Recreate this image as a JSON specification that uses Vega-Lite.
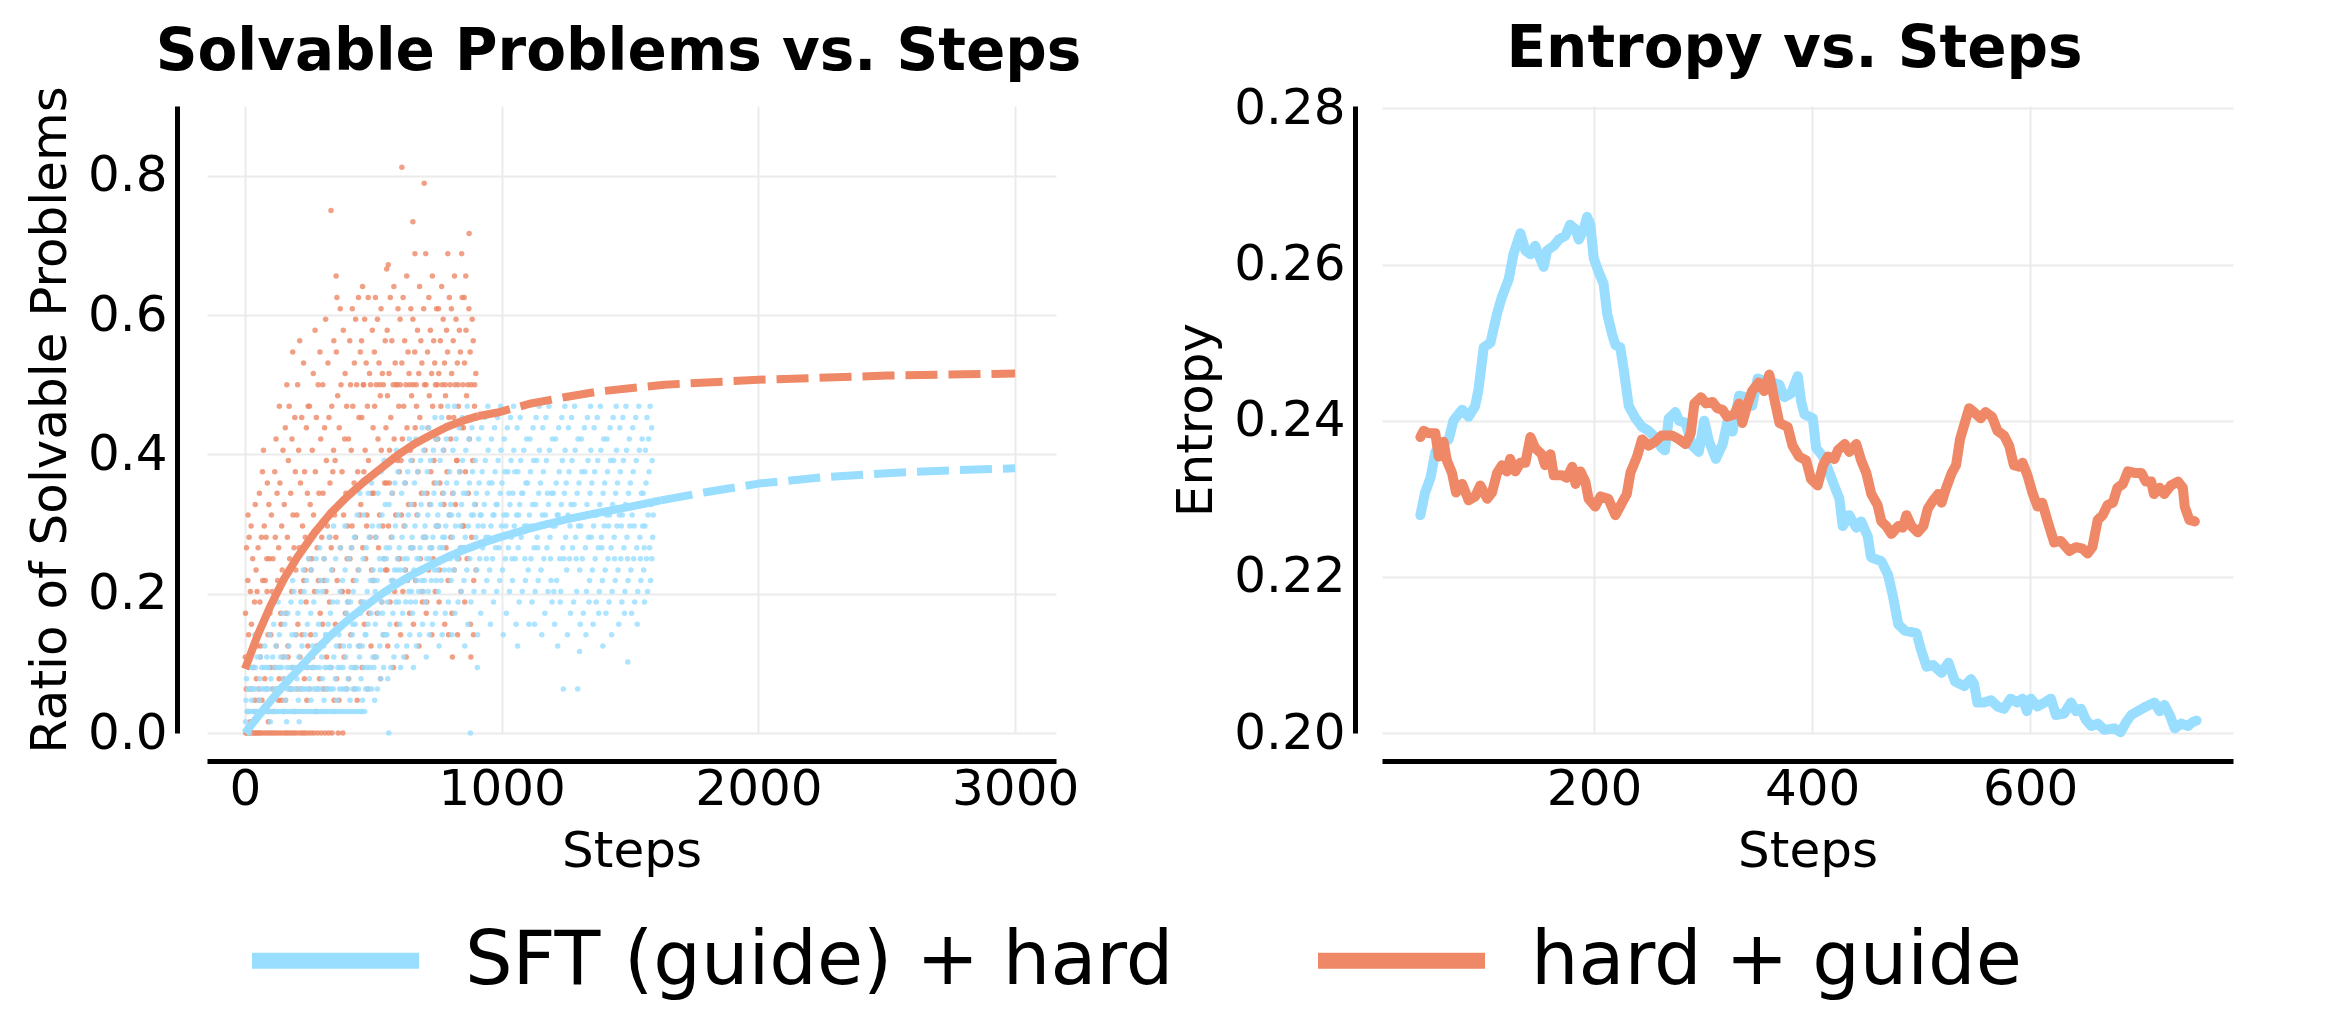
{
"$schema":"https://vega.github.io/schema/vega-lite/v6.json",
"background":"white",
"padding":{"left":25,"top":21,"right":5,"bottom":5},
"config":{
"font":"DejaVu Sans",
"view":{"stroke":null},
"axis":{"domainColor":"#000000","domainWidth":5,"ticks":false,"tickSize":0,"labelFontSize":50,"labelColor":"#000000","titleFontSize":50,"titleFontWeight":"normal","titleColor":"#000000","gridColor":"#ebebeb","gridWidth":2,"labelFlush":false,"labelOverlap":false,"labelFont":"DejaVu Sans","titleFont":"DejaVu Sans"},
"title":{"fontSize":58,"fontWeight":"bold","color":"#000000","offset":0,"font":"DejaVu Sans"},
"legend":{"labelFont":"DejaVu Sans","orient":"none","legendX":37,"legendY":763,"direction":"horizontal","symbolType":"stroke","symbolSize":27889,"symbolStrokeWidth":16,"labelFontSize":75,"labelColor":"#000000","labelOffset":38,"columnPadding":112,"labelLimit":2000,"symbolOpacity":1}
},
"datasets":{
"ptsO":[
{"s":3,"v":0},{"s":41,"v":0},{"s":17,"v":0},{"s":29,"v":0},{"s":9,"v":0},{"s":46,"v":0},{"s":23,"v":0},{"s":35,"v":0},{"s":12,"v":0.031},{"s":38,"v":0.047},{"s":5,"v":0.063},{"s":27,"v":0.063},{"s":44,"v":0.078},{"s":19,"v":0.063},{"s":33,"v":0.094},{"s":8,"v":0.109},{"s":48,"v":0.125},{"s":14,"v":0.141},{"s":25,"v":0.156},{"s":2,"v":0.172},{"s":37,"v":0.188},{"s":21,"v":0.203},{"s":11,"v":0.219},{"s":43,"v":0.234},{"s":30,"v":0.25},{"s":6,"v":0.266},{"s":16,"v":0.281},{"s":12,"v":0.313},{"s":40,"v":0.328},{"s":24,"v":0.297},{"s":47,"v":0.203},{"s":1,"v":0.109},{"s":32,"v":0.094},{"s":20,"v":0.016},{"s":36,"v":0.031},
{"s":57,"v":0},{"s":88,"v":0},{"s":71,"v":0},{"s":96,"v":0},{"s":63,"v":0},{"s":80,"v":0},{"s":52,"v":0},{"s":92,"v":0.031},{"s":66,"v":0.047},{"s":84,"v":0.063},{"s":54,"v":0.063},{"s":77,"v":0.078},{"s":99,"v":0.094},{"s":61,"v":0.125},{"s":90,"v":0.141},{"s":73,"v":0.156},{"s":58,"v":0.188},{"s":86,"v":0.203},{"s":69,"v":0.219},{"s":95,"v":0.25},{"s":51,"v":0.266},{"s":82,"v":0.281},{"s":64,"v":0.281},{"s":75,"v":0.297},{"s":93,"v":0.328},{"s":56,"v":0.344},{"s":87,"v":0.359},{"s":68,"v":0.375},{"s":79,"v":0.219},{"s":60,"v":0.109},{"s":97,"v":0.172},{"s":72,"v":0.406},{"s":85,"v":0.25},{"s":53,"v":0.047},{"s":91,"v":0.016},
{"s":104,"v":0},{"s":137,"v":0},{"s":119,"v":0},{"s":146,"v":0},{"s":111,"v":0},{"s":128,"v":0},{"s":142,"v":0.047},{"s":107,"v":0.063},{"s":133,"v":0.078},{"s":115,"v":0.094},{"s":149,"v":0.109},{"s":122,"v":0.125},{"s":101,"v":0.141},{"s":139,"v":0.172},{"s":113,"v":0.188},{"s":127,"v":0.219},{"s":145,"v":0.234},{"s":109,"v":0.25},{"s":131,"v":0.266},{"s":118,"v":0.281},{"s":143,"v":0.297},{"s":103,"v":0.313},{"s":125,"v":0.344},{"s":136,"v":0.359},{"s":116,"v":0.375},{"s":148,"v":0.406},{"s":121,"v":0.422},{"s":134,"v":0.469},{"s":106,"v":0.203},{"s":140,"v":0.156},{"s":124,"v":0.063},{"s":112,"v":0.031},{"s":130,"v":0.047},
{"s":156,"v":0},{"s":189,"v":0},{"s":171,"v":0},{"s":197,"v":0},{"s":162,"v":0},{"s":180,"v":0},{"s":193,"v":0.031},{"s":158,"v":0.047},{"s":176,"v":0.063},{"s":151,"v":0.078},{"s":185,"v":0.094},{"s":167,"v":0.125},{"s":199,"v":0.141},{"s":160,"v":0.172},{"s":182,"v":0.203},{"s":154,"v":0.219},{"s":174,"v":0.25},{"s":191,"v":0.266},{"s":165,"v":0.281},{"s":187,"v":0.313},{"s":153,"v":0.328},{"s":178,"v":0.344},{"s":196,"v":0.375},{"s":169,"v":0.391},{"s":183,"v":0.422},{"s":157,"v":0.438},{"s":194,"v":0.453},{"s":172,"v":0.469},{"s":163,"v":0.5},{"s":186,"v":0.547},{"s":198,"v":0.234},{"s":168,"v":0.109},{"s":179,"v":0.063},{"s":152,"v":0.031},
{"s":208,"v":0},{"s":236,"v":0},{"s":219,"v":0},{"s":247,"v":0},{"s":227,"v":0},{"s":241,"v":0.047},{"s":203,"v":0.063},{"s":231,"v":0.078},{"s":214,"v":0.109},{"s":245,"v":0.125},{"s":222,"v":0.141},{"s":206,"v":0.156},{"s":238,"v":0.188},{"s":217,"v":0.203},{"s":229,"v":0.219},{"s":249,"v":0.25},{"s":211,"v":0.266},{"s":235,"v":0.281},{"s":224,"v":0.297},{"s":202,"v":0.313},{"s":243,"v":0.344},{"s":216,"v":0.359},{"s":232,"v":0.375},{"s":209,"v":0.406},{"s":239,"v":0.438},{"s":221,"v":0.453},{"s":246,"v":0.469},{"s":205,"v":0.5},{"s":228,"v":0.531},{"s":213,"v":0.563},{"s":234,"v":0.234},{"s":242,"v":0.094},{"s":218,"v":0.063},
{"s":258,"v":0},{"s":283,"v":0},{"s":269,"v":0},{"s":297,"v":0},{"s":276,"v":0.031},{"s":252,"v":0.063},{"s":290,"v":0.078},{"s":264,"v":0.094},{"s":279,"v":0.125},{"s":256,"v":0.141},{"s":293,"v":0.172},{"s":271,"v":0.203},{"s":286,"v":0.219},{"s":260,"v":0.25},{"s":281,"v":0.266},{"s":298,"v":0.297},{"s":267,"v":0.313},{"s":254,"v":0.328},{"s":288,"v":0.344},{"s":274,"v":0.375},{"s":262,"v":0.406},{"s":295,"v":0.422},{"s":278,"v":0.453},{"s":251,"v":0.469},{"s":285,"v":0.5},{"s":266,"v":0.516},{"s":292,"v":0.547},{"s":273,"v":0.578},{"s":257,"v":0.234},{"s":299,"v":0.281},{"s":263,"v":0.109},{"s":282,"v":0.063},
{"s":312,"v":0},{"s":339,"v":0},{"s":326,"v":0},{"s":347,"v":0.047},{"s":305,"v":0.063},{"s":333,"v":0.094},{"s":318,"v":0.109},{"s":344,"v":0.141},{"s":302,"v":0.156},{"s":329,"v":0.188},{"s":315,"v":0.203},{"s":341,"v":0.234},{"s":308,"v":0.25},{"s":336,"v":0.266},{"s":321,"v":0.297},{"s":349,"v":0.313},{"s":304,"v":0.344},{"s":331,"v":0.359},{"s":317,"v":0.391},{"s":345,"v":0.406},{"s":310,"v":0.438},{"s":327,"v":0.453},{"s":338,"v":0.469},{"s":303,"v":0.5},{"s":323,"v":0.531},{"s":346,"v":0.563},{"s":314,"v":0.594},{"s":335,"v":0.75},{"s":330,"v":0.281},{"s":307,"v":0.219},{"s":342,"v":0.375},{"s":319,"v":0.063},
{"s":363,"v":0},{"s":381,"v":0},{"s":395,"v":0.063},{"s":357,"v":0.078},{"s":386,"v":0.109},{"s":369,"v":0.125},{"s":352,"v":0.156},{"s":391,"v":0.172},{"s":376,"v":0.203},{"s":359,"v":0.219},{"s":398,"v":0.25},{"s":372,"v":0.266},{"s":354,"v":0.281},{"s":384,"v":0.313},{"s":365,"v":0.328},{"s":393,"v":0.344},{"s":378,"v":0.375},{"s":351,"v":0.391},{"s":388,"v":0.422},{"s":367,"v":0.438},{"s":396,"v":0.469},{"s":361,"v":0.484},{"s":374,"v":0.5},{"s":390,"v":0.516},{"s":356,"v":0.547},{"s":383,"v":0.578},{"s":371,"v":0.609},{"s":358,"v":0.625},{"s":355,"v":0.656},{"s":399,"v":0.297},{"s":379,"v":0.203},{"s":366,"v":0.047},
{"s":437,"v":0.047},{"s":404,"v":0.078},{"s":428,"v":0.094},{"s":446,"v":0.125},{"s":412,"v":0.141},{"s":433,"v":0.172},{"s":401,"v":0.188},{"s":422,"v":0.219},{"s":441,"v":0.234},{"s":409,"v":0.25},{"s":430,"v":0.281},{"s":417,"v":0.297},{"s":448,"v":0.313},{"s":406,"v":0.344},{"s":425,"v":0.359},{"s":439,"v":0.375},{"s":414,"v":0.406},{"s":403,"v":0.422},{"s":444,"v":0.453},{"s":420,"v":0.469},{"s":411,"v":0.5},{"s":435,"v":0.5},{"s":426,"v":0.531},{"s":449,"v":0.547},{"s":408,"v":0.563},{"s":431,"v":0.594},{"s":418,"v":0.609},{"s":442,"v":0.625},{"s":415,"v":0.266},{"s":402,"v":0.203},{"s":427,"v":0.063},
{"s":478,"v":0.063},{"s":456,"v":0.094},{"s":491,"v":0.125},{"s":465,"v":0.156},{"s":483,"v":0.172},{"s":452,"v":0.188},{"s":497,"v":0.219},{"s":470,"v":0.25},{"s":459,"v":0.266},{"s":487,"v":0.281},{"s":474,"v":0.297},{"s":451,"v":0.328},{"s":494,"v":0.344},{"s":463,"v":0.375},{"s":481,"v":0.391},{"s":468,"v":0.406},{"s":499,"v":0.438},{"s":455,"v":0.453},{"s":477,"v":0.469},{"s":489,"v":0.5},{"s":461,"v":0.5},{"s":485,"v":0.516},{"s":472,"v":0.531},{"s":454,"v":0.563},{"s":496,"v":0.578},{"s":466,"v":0.594},{"s":480,"v":0.625},{"s":458,"v":0.641},{"s":493,"v":0.234},{"s":475,"v":0.313},{"s":462,"v":0.5},
{"s":528,"v":0.078},{"s":506,"v":0.109},{"s":541,"v":0.141},{"s":515,"v":0.172},{"s":533,"v":0.188},{"s":502,"v":0.219},{"s":547,"v":0.234},{"s":520,"v":0.266},{"s":509,"v":0.281},{"s":537,"v":0.297},{"s":524,"v":0.313},{"s":501,"v":0.344},{"s":544,"v":0.359},{"s":513,"v":0.375},{"s":531,"v":0.406},{"s":518,"v":0.422},{"s":549,"v":0.438},{"s":505,"v":0.469},{"s":527,"v":0.484},{"s":539,"v":0.5},{"s":511,"v":0.5},{"s":535,"v":0.516},{"s":522,"v":0.531},{"s":504,"v":0.547},{"s":546,"v":0.563},{"s":516,"v":0.594},{"s":530,"v":0.609},{"s":508,"v":0.625},{"s":552,"v":0.666},{"s":543,"v":0.25},{"s":525,"v":0.5},
{"s":578,"v":0.094},{"s":556,"v":0.125},{"s":591,"v":0.156},{"s":565,"v":0.188},{"s":583,"v":0.203},{"s":553,"v":0.234},{"s":597,"v":0.25},{"s":570,"v":0.281},{"s":559,"v":0.297},{"s":587,"v":0.313},{"s":574,"v":0.344},{"s":551,"v":0.359},{"s":594,"v":0.391},{"s":563,"v":0.406},{"s":581,"v":0.422},{"s":568,"v":0.453},{"s":599,"v":0.469},{"s":555,"v":0.484},{"s":577,"v":0.5},{"s":589,"v":0.5},{"s":561,"v":0.516},{"s":585,"v":0.531},{"s":572,"v":0.563},{"s":554,"v":0.578},{"s":596,"v":0.609},{"s":566,"v":0.625},{"s":580,"v":0.641},{"s":558,"v":0.672},{"s":593,"v":0.5},{"s":575,"v":0.219},{"s":562,"v":0.359},
{"s":628,"v":0.109},{"s":606,"v":0.141},{"s":641,"v":0.172},{"s":615,"v":0.203},{"s":633,"v":0.219},{"s":602,"v":0.25},{"s":647,"v":0.266},{"s":620,"v":0.297},{"s":609,"v":0.313},{"s":637,"v":0.328},{"s":624,"v":0.359},{"s":601,"v":0.375},{"s":644,"v":0.406},{"s":613,"v":0.422},{"s":631,"v":0.438},{"s":618,"v":0.469},{"s":649,"v":0.484},{"s":605,"v":0.5},{"s":627,"v":0.5},{"s":639,"v":0.516},{"s":611,"v":0.531},{"s":635,"v":0.547},{"s":622,"v":0.563},{"s":604,"v":0.594},{"s":646,"v":0.609},{"s":611,"v":0.812},{"s":616,"v":0.625},{"s":630,"v":0.656},{"s":642,"v":0.5},{"s":625,"v":0.234},{"s":608,"v":0.391},
{"s":678,"v":0.125},{"s":656,"v":0.156},{"s":691,"v":0.188},{"s":665,"v":0.219},{"s":683,"v":0.25},{"s":652,"v":0.266},{"s":697,"v":0.281},{"s":670,"v":0.313},{"s":659,"v":0.328},{"s":687,"v":0.344},{"s":674,"v":0.375},{"s":651,"v":0.391},{"s":694,"v":0.422},{"s":663,"v":0.438},{"s":681,"v":0.453},{"s":668,"v":0.469},{"s":699,"v":0.5},{"s":655,"v":0.5},{"s":677,"v":0.516},{"s":689,"v":0.531},{"s":661,"v":0.547},{"s":685,"v":0.563},{"s":672,"v":0.578},{"s":654,"v":0.594},{"s":696,"v":0.609},{"s":654,"v":0.734},{"s":698,"v":0.789},{"s":680,"v":0.641},{"s":667,"v":0.5},{"s":690,"v":0.203},{"s":662,"v":0.688},
{"s":728,"v":0.141},{"s":706,"v":0.172},{"s":741,"v":0.203},{"s":715,"v":0.234},{"s":733,"v":0.25},{"s":702,"v":0.281},{"s":747,"v":0.297},{"s":720,"v":0.328},{"s":709,"v":0.344},{"s":737,"v":0.359},{"s":724,"v":0.375},{"s":701,"v":0.406},{"s":744,"v":0.422},{"s":713,"v":0.438},{"s":731,"v":0.469},{"s":718,"v":0.484},{"s":749,"v":0.5},{"s":705,"v":0.5},{"s":727,"v":0.516},{"s":739,"v":0.531},{"s":711,"v":0.547},{"s":735,"v":0.563},{"s":722,"v":0.578},{"s":704,"v":0.688},{"s":746,"v":0.609},{"s":716,"v":0.625},{"s":730,"v":0.656},{"s":742,"v":0.5},{"s":725,"v":0.266},{"s":708,"v":0.188},{"s":736,"v":0.391},
{"s":778,"v":0.156},{"s":756,"v":0.188},{"s":791,"v":0.219},{"s":765,"v":0.25},{"s":783,"v":0.266},{"s":752,"v":0.297},{"s":797,"v":0.313},{"s":770,"v":0.344},{"s":759,"v":0.359},{"s":787,"v":0.375},{"s":774,"v":0.406},{"s":751,"v":0.422},{"s":794,"v":0.453},{"s":763,"v":0.469},{"s":781,"v":0.484},{"s":768,"v":0.5},{"s":799,"v":0.5},{"s":755,"v":0.516},{"s":777,"v":0.531},{"s":789,"v":0.547},{"s":761,"v":0.563},{"s":785,"v":0.578},{"s":772,"v":0.594},{"s":754,"v":0.609},{"s":796,"v":0.625},{"s":790,"v":0.688},{"s":766,"v":0.641},{"s":780,"v":0.5},{"s":758,"v":0.234},{"s":793,"v":0.141},{"s":775,"v":0.328},
{"s":828,"v":0.141},{"s":806,"v":0.172},{"s":841,"v":0.203},{"s":815,"v":0.234},{"s":833,"v":0.25},{"s":802,"v":0.281},{"s":847,"v":0.297},{"s":820,"v":0.328},{"s":809,"v":0.344},{"s":837,"v":0.375},{"s":824,"v":0.391},{"s":801,"v":0.422},{"s":844,"v":0.438},{"s":813,"v":0.453},{"s":831,"v":0.469},{"s":818,"v":0.5},{"s":849,"v":0.5},{"s":805,"v":0.516},{"s":827,"v":0.531},{"s":839,"v":0.547},{"s":811,"v":0.563},{"s":835,"v":0.578},{"s":822,"v":0.594},{"s":804,"v":0.609},{"s":846,"v":0.625},{"s":816,"v":0.656},{"s":830,"v":0.5},{"s":842,"v":0.266},{"s":808,"v":0.109},{"s":844,"v":0.688},{"s":826,"v":0.391},
{"s":878,"v":0.156},{"s":856,"v":0.188},{"s":891,"v":0.219},{"s":865,"v":0.25},{"s":883,"v":0.281},{"s":852,"v":0.297},{"s":897,"v":0.328},{"s":870,"v":0.344},{"s":859,"v":0.375},{"s":887,"v":0.391},{"s":874,"v":0.422},{"s":851,"v":0.438},{"s":894,"v":0.469},{"s":863,"v":0.484},{"s":881,"v":0.5},{"s":868,"v":0.5},{"s":899,"v":0.516},{"s":855,"v":0.531},{"s":877,"v":0.547},{"s":889,"v":0.563},{"s":861,"v":0.578},{"s":885,"v":0.594},{"s":872,"v":0.609},{"s":854,"v":0.625},{"s":873,"v":0.717},{"s":895,"v":0.5},{"s":880,"v":0.109},{"s":890,"v":0.141},{"s":860,"v":0.656},{"s":905,"v":0.453},{"s":900,"v":0.234}
],
"ptsB":[
{"s":2,"v":0.016},{"s":8,"v":0.031},{"s":15,"v":0.031},{"s":22,"v":0.031},{"s":30,"v":0.031},{"s":37,"v":0.031},{"s":45,"v":0.031},{"s":4,"v":0.047},{"s":12,"v":0.063},{"s":19,"v":0.063},{"s":27,"v":0.063},{"s":35,"v":0.063},{"s":43,"v":0.063},{"s":6,"v":0.078},{"s":14,"v":0.094},{"s":24,"v":0.094},{"s":33,"v":0.094},{"s":41,"v":0.094},{"s":10,"v":0.109},{"s":29,"v":0.125},{"s":47,"v":0.109},{"s":18,"v":0},{"s":39,"v":0.141},{"s":26,"v":0.047},
{"s":52,"v":0.031},{"s":59,"v":0.031},{"s":66,"v":0.031},{"s":73,"v":0.031},{"s":80,"v":0.031},{"s":88,"v":0.031},{"s":95,"v":0.031},{"s":55,"v":0.047},{"s":62,"v":0.063},{"s":70,"v":0.063},{"s":78,"v":0.063},{"s":86,"v":0.063},{"s":93,"v":0.063},{"s":57,"v":0.078},{"s":65,"v":0.094},{"s":74,"v":0.094},{"s":83,"v":0.094},{"s":91,"v":0.094},{"s":60,"v":0.109},{"s":77,"v":0.125},{"s":97,"v":0.141},{"s":68,"v":0.156},{"s":85,"v":0.109},{"s":99,"v":0.016},{"s":90,"v":0.172},
{"s":103,"v":0.031},{"s":110,"v":0.031},{"s":118,"v":0.031},{"s":125,"v":0.031},{"s":133,"v":0.031},{"s":141,"v":0.031},{"s":148,"v":0.031},{"s":106,"v":0.047},{"s":114,"v":0.063},{"s":122,"v":0.063},{"s":130,"v":0.063},{"s":138,"v":0.063},{"s":145,"v":0.063},{"s":101,"v":0.078},{"s":116,"v":0.094},{"s":127,"v":0.094},{"s":136,"v":0.094},{"s":143,"v":0.094},{"s":108,"v":0.109},{"s":121,"v":0.125},{"s":134,"v":0.141},{"s":112,"v":0.156},{"s":147,"v":0.172},{"s":129,"v":0.188},{"s":139,"v":0.109},{"s":119,"v":0.203},
{"s":153,"v":0.031},{"s":161,"v":0.031},{"s":169,"v":0.031},{"s":177,"v":0.031},{"s":185,"v":0.031},{"s":193,"v":0.031},{"s":157,"v":0.047},{"s":165,"v":0.063},{"s":173,"v":0.063},{"s":181,"v":0.063},{"s":189,"v":0.063},{"s":197,"v":0.063},{"s":151,"v":0.078},{"s":163,"v":0.094},{"s":175,"v":0.094},{"s":187,"v":0.094},{"s":198,"v":0.094},{"s":159,"v":0.109},{"s":171,"v":0.125},{"s":183,"v":0.141},{"s":195,"v":0.141},{"s":155,"v":0.156},{"s":167,"v":0.172},{"s":179,"v":0.188},{"s":191,"v":0.203},{"s":186,"v":0.219},{"s":162,"v":0.016},
{"s":204,"v":0.031},{"s":212,"v":0.031},{"s":220,"v":0.031},{"s":228,"v":0.031},{"s":237,"v":0.031},{"s":245,"v":0.031},{"s":208,"v":0.047},{"s":216,"v":0.063},{"s":224,"v":0.063},{"s":233,"v":0.063},{"s":241,"v":0.063},{"s":249,"v":0.063},{"s":202,"v":0.078},{"s":214,"v":0.094},{"s":226,"v":0.094},{"s":238,"v":0.094},{"s":247,"v":0.094},{"s":210,"v":0.109},{"s":222,"v":0.125},{"s":234,"v":0.141},{"s":243,"v":0.156},{"s":206,"v":0.172},{"s":218,"v":0.188},{"s":230,"v":0.203},{"s":240,"v":0.219},{"s":227,"v":0.234},{"s":248,"v":0.25},{"s":211,"v":0.016},
{"s":253,"v":0.031},{"s":262,"v":0.031},{"s":271,"v":0.031},{"s":280,"v":0.031},{"s":289,"v":0.031},{"s":297,"v":0.031},{"s":257,"v":0.047},{"s":266,"v":0.063},{"s":275,"v":0.063},{"s":284,"v":0.063},{"s":293,"v":0.063},{"s":251,"v":0.078},{"s":260,"v":0.094},{"s":270,"v":0.094},{"s":279,"v":0.094},{"s":290,"v":0.094},{"s":299,"v":0.109},{"s":264,"v":0.125},{"s":274,"v":0.141},{"s":286,"v":0.156},{"s":256,"v":0.172},{"s":268,"v":0.188},{"s":282,"v":0.203},{"s":295,"v":0.219},{"s":259,"v":0.234},{"s":277,"v":0.25},{"s":291,"v":0.266},{"s":287,"v":0.125},
{"s":304,"v":0.031},{"s":313,"v":0.031},{"s":322,"v":0.031},{"s":331,"v":0.031},{"s":340,"v":0.031},{"s":348,"v":0.031},{"s":308,"v":0.047},{"s":317,"v":0.063},{"s":326,"v":0.063},{"s":335,"v":0.063},{"s":344,"v":0.063},{"s":302,"v":0.078},{"s":311,"v":0.094},{"s":320,"v":0.094},{"s":329,"v":0.094},{"s":338,"v":0.094},{"s":346,"v":0.109},{"s":306,"v":0.125},{"s":315,"v":0.141},{"s":324,"v":0.156},{"s":333,"v":0.172},{"s":342,"v":0.188},{"s":301,"v":0.203},{"s":319,"v":0.219},{"s":337,"v":0.234},{"s":309,"v":0.25},{"s":327,"v":0.281},{"s":345,"v":0.297},{"s":314,"v":0.141},
{"s":354,"v":0.031},{"s":364,"v":0.031},{"s":374,"v":0.031},{"s":384,"v":0.031},{"s":394,"v":0.031},{"s":358,"v":0.047},{"s":368,"v":0.063},{"s":378,"v":0.063},{"s":388,"v":0.063},{"s":398,"v":0.063},{"s":352,"v":0.078},{"s":362,"v":0.094},{"s":372,"v":0.094},{"s":382,"v":0.094},{"s":392,"v":0.109},{"s":356,"v":0.125},{"s":366,"v":0.141},{"s":376,"v":0.156},{"s":386,"v":0.156},{"s":396,"v":0.172},{"s":360,"v":0.188},{"s":370,"v":0.203},{"s":380,"v":0.219},{"s":390,"v":0.234},{"s":353,"v":0.25},{"s":371,"v":0.266},{"s":389,"v":0.297},{"s":365,"v":0.328},{"s":383,"v":0.125},{"s":399,"v":0.188},
{"s":405,"v":0.031},{"s":416,"v":0.031},{"s":427,"v":0.031},{"s":438,"v":0.031},{"s":448,"v":0.031},{"s":409,"v":0.047},{"s":420,"v":0.063},{"s":431,"v":0.063},{"s":442,"v":0.063},{"s":402,"v":0.078},{"s":413,"v":0.094},{"s":424,"v":0.094},{"s":435,"v":0.094},{"s":446,"v":0.109},{"s":407,"v":0.125},{"s":418,"v":0.141},{"s":429,"v":0.156},{"s":440,"v":0.172},{"s":450,"v":0.172},{"s":411,"v":0.188},{"s":422,"v":0.203},{"s":433,"v":0.219},{"s":444,"v":0.234},{"s":404,"v":0.25},{"s":415,"v":0.266},{"s":426,"v":0.281},{"s":437,"v":0.313},{"s":448,"v":0.344},{"s":419,"v":0.156},{"s":441,"v":0.125},
{"s":455,"v":0.031},{"s":466,"v":0.031},{"s":458,"v":0.047},{"s":470,"v":0.063},{"s":482,"v":0.063},{"s":494,"v":0.063},{"s":452,"v":0.078},{"s":463,"v":0.094},{"s":475,"v":0.094},{"s":487,"v":0.094},{"s":498,"v":0.109},{"s":457,"v":0.125},{"s":468,"v":0.141},{"s":479,"v":0.156},{"s":491,"v":0.172},{"s":454,"v":0.188},{"s":465,"v":0.188},{"s":476,"v":0.203},{"s":488,"v":0.219},{"s":499,"v":0.234},{"s":460,"v":0.25},{"s":472,"v":0.266},{"s":484,"v":0.281},{"s":496,"v":0.297},{"s":462,"v":0.313},{"s":480,"v":0.344},{"s":493,"v":0.359},{"s":471,"v":0.141},{"s":486,"v":0.188},
{"s":505,"v":0.047},{"s":516,"v":0.063},{"s":528,"v":0.078},{"s":540,"v":0.094},{"s":502,"v":0.094},{"s":513,"v":0.109},{"s":525,"v":0.125},{"s":537,"v":0.141},{"s":548,"v":0.141},{"s":508,"v":0.156},{"s":520,"v":0.172},{"s":532,"v":0.188},{"s":544,"v":0.203},{"s":504,"v":0.219},{"s":515,"v":0.219},{"s":527,"v":0.234},{"s":539,"v":0.25},{"s":550,"v":0.266},{"s":510,"v":0.281},{"s":522,"v":0.297},{"s":534,"v":0.313},{"s":546,"v":0.328},{"s":518,"v":0.344},{"s":530,"v":0.375},{"s":542,"v":0.391},{"s":507,"v":0.203},{"s":536,"v":0.172},{"s":524,"v":0.25},
{"s":560,"v":0},{"s":556,"v":0.078},{"s":568,"v":0.094},{"s":580,"v":0.109},{"s":592,"v":0.125},{"s":553,"v":0.141},{"s":564,"v":0.156},{"s":576,"v":0.172},{"s":588,"v":0.188},{"s":599,"v":0.188},{"s":558,"v":0.203},{"s":570,"v":0.219},{"s":582,"v":0.234},{"s":594,"v":0.25},{"s":551,"v":0.25},{"s":563,"v":0.266},{"s":574,"v":0.281},{"s":586,"v":0.297},{"s":597,"v":0.313},{"s":561,"v":0.328},{"s":572,"v":0.344},{"s":584,"v":0.359},{"s":596,"v":0.375},{"s":566,"v":0.391},{"s":590,"v":0.406},{"s":578,"v":0.219},{"s":555,"v":0.188},{"s":593,"v":0.234},
{"s":606,"v":0.094},{"s":618,"v":0.109},{"s":630,"v":0.125},{"s":642,"v":0.141},{"s":603,"v":0.156},{"s":614,"v":0.172},{"s":626,"v":0.188},{"s":638,"v":0.203},{"s":649,"v":0.203},{"s":608,"v":0.219},{"s":620,"v":0.234},{"s":632,"v":0.25},{"s":644,"v":0.266},{"s":601,"v":0.266},{"s":612,"v":0.281},{"s":624,"v":0.297},{"s":636,"v":0.313},{"s":647,"v":0.328},{"s":610,"v":0.344},{"s":622,"v":0.359},{"s":634,"v":0.375},{"s":646,"v":0.391},{"s":616,"v":0.406},{"s":640,"v":0.422},{"s":628,"v":0.219},{"s":604,"v":0.234},{"s":645,"v":0.188},{"s":619,"v":0.25},
{"s":656,"v":0.094},{"s":668,"v":0.125},{"s":680,"v":0.141},{"s":692,"v":0.156},{"s":653,"v":0.172},{"s":664,"v":0.188},{"s":676,"v":0.203},{"s":688,"v":0.219},{"s":699,"v":0.219},{"s":658,"v":0.234},{"s":670,"v":0.25},{"s":682,"v":0.266},{"s":694,"v":0.281},{"s":651,"v":0.281},{"s":662,"v":0.297},{"s":674,"v":0.313},{"s":686,"v":0.328},{"s":697,"v":0.344},{"s":660,"v":0.359},{"s":672,"v":0.375},{"s":684,"v":0.391},{"s":696,"v":0.406},{"s":666,"v":0.422},{"s":690,"v":0.438},{"s":678,"v":0.25},{"s":655,"v":0.266},{"s":695,"v":0.203},{"s":669,"v":0.219},
{"s":706,"v":0.109},{"s":718,"v":0.141},{"s":730,"v":0.156},{"s":742,"v":0.172},{"s":703,"v":0.188},{"s":714,"v":0.203},{"s":726,"v":0.219},{"s":738,"v":0.234},{"s":749,"v":0.234},{"s":708,"v":0.25},{"s":720,"v":0.266},{"s":732,"v":0.281},{"s":744,"v":0.297},{"s":701,"v":0.297},{"s":712,"v":0.313},{"s":724,"v":0.328},{"s":736,"v":0.344},{"s":747,"v":0.359},{"s":710,"v":0.375},{"s":722,"v":0.391},{"s":734,"v":0.406},{"s":746,"v":0.422},{"s":716,"v":0.438},{"s":740,"v":0.453},{"s":728,"v":0.266},{"s":705,"v":0.281},{"s":745,"v":0.219},{"s":719,"v":0.25},
{"s":756,"v":0.125},{"s":768,"v":0.141},{"s":780,"v":0.172},{"s":792,"v":0.188},{"s":753,"v":0.203},{"s":764,"v":0.219},{"s":776,"v":0.234},{"s":788,"v":0.25},{"s":799,"v":0.25},{"s":758,"v":0.266},{"s":770,"v":0.281},{"s":782,"v":0.297},{"s":794,"v":0.313},{"s":751,"v":0.313},{"s":762,"v":0.328},{"s":774,"v":0.344},{"s":786,"v":0.359},{"s":797,"v":0.375},{"s":760,"v":0.391},{"s":772,"v":0.406},{"s":784,"v":0.422},{"s":796,"v":0.438},{"s":766,"v":0.453},{"s":790,"v":0.469},{"s":778,"v":0.281},{"s":755,"v":0.297},{"s":795,"v":0.234},{"s":769,"v":0.266},
{"s":806,"v":0.141},{"s":818,"v":0.172},{"s":830,"v":0.188},{"s":842,"v":0.203},{"s":803,"v":0.219},{"s":814,"v":0.234},{"s":826,"v":0.25},{"s":838,"v":0.266},{"s":849,"v":0.266},{"s":808,"v":0.281},{"s":820,"v":0.297},{"s":832,"v":0.313},{"s":844,"v":0.328},{"s":801,"v":0.328},{"s":812,"v":0.344},{"s":824,"v":0.359},{"s":836,"v":0.375},{"s":847,"v":0.391},{"s":810,"v":0.406},{"s":822,"v":0.422},{"s":834,"v":0.438},{"s":846,"v":0.453},{"s":816,"v":0.469},{"s":840,"v":0.297},{"s":828,"v":0.25},{"s":805,"v":0.313},
{"s":856,"v":0.125},{"s":868,"v":0.156},{"s":880,"v":0.188},{"s":892,"v":0.203},{"s":853,"v":0.219},{"s":864,"v":0.234},{"s":876,"v":0.25},{"s":888,"v":0.266},{"s":899,"v":0.281},{"s":858,"v":0.281},{"s":870,"v":0.297},{"s":882,"v":0.313},{"s":894,"v":0.328},{"s":851,"v":0.344},{"s":862,"v":0.344},{"s":874,"v":0.359},{"s":886,"v":0.375},{"s":897,"v":0.391},{"s":860,"v":0.406},{"s":872,"v":0.422},{"s":884,"v":0.438},{"s":896,"v":0.453},{"s":866,"v":0.469},{"s":878,"v":0},{"s":890,"v":0.313},{"s":855,"v":0.266},
{"s":906,"v":0.141},{"s":918,"v":0.172},{"s":930,"v":0.203},{"s":942,"v":0.219},{"s":903,"v":0.234},{"s":914,"v":0.25},{"s":926,"v":0.266},{"s":938,"v":0.281},{"s":949,"v":0.281},{"s":908,"v":0.297},{"s":920,"v":0.313},{"s":932,"v":0.328},{"s":944,"v":0.344},{"s":901,"v":0.344},{"s":912,"v":0.359},{"s":924,"v":0.375},{"s":936,"v":0.391},{"s":947,"v":0.406},{"s":910,"v":0.422},{"s":922,"v":0.438},{"s":934,"v":0.453},{"s":946,"v":0.469},{"s":916,"v":0.313},{"s":940,"v":0.25},{"s":928,"v":0.297},{"s":905,"v":0.094},
{"s":956,"v":0.156},{"s":968,"v":0.188},{"s":980,"v":0.203},{"s":992,"v":0.219},{"s":953,"v":0.234},{"s":964,"v":0.25},{"s":976,"v":0.266},{"s":988,"v":0.281},{"s":999,"v":0.297},{"s":958,"v":0.297},{"s":970,"v":0.313},{"s":982,"v":0.328},{"s":994,"v":0.344},{"s":951,"v":0.359},{"s":962,"v":0.359},{"s":974,"v":0.375},{"s":986,"v":0.391},{"s":997,"v":0.406},{"s":960,"v":0.422},{"s":972,"v":0.438},{"s":984,"v":0.453},{"s":996,"v":0.469},{"s":966,"v":0.313},{"s":990,"v":0.266},{"s":978,"v":0.328},
{"s":1006,"v":0.141},{"s":1018,"v":0.172},{"s":1030,"v":0.203},{"s":1042,"v":0.219},{"s":1003,"v":0.234},{"s":1014,"v":0.25},{"s":1026,"v":0.266},{"s":1038,"v":0.281},{"s":1049,"v":0.297},{"s":1008,"v":0.313},{"s":1020,"v":0.313},{"s":1032,"v":0.328},{"s":1044,"v":0.344},{"s":1001,"v":0.359},{"s":1012,"v":0.375},{"s":1024,"v":0.375},{"s":1036,"v":0.391},{"s":1047,"v":0.406},{"s":1010,"v":0.422},{"s":1022,"v":0.438},{"s":1034,"v":0.453},{"s":1046,"v":0.469},{"s":1016,"v":0.297},{"s":1040,"v":0.25},{"s":1028,"v":0.344},
{"s":1062,"v":0.125},{"s":1056,"v":0.156},{"s":1068,"v":0.188},{"s":1080,"v":0.203},{"s":1092,"v":0.219},{"s":1053,"v":0.25},{"s":1064,"v":0.266},{"s":1076,"v":0.281},{"s":1088,"v":0.297},{"s":1099,"v":0.297},{"s":1058,"v":0.313},{"s":1070,"v":0.328},{"s":1082,"v":0.344},{"s":1094,"v":0.359},{"s":1051,"v":0.375},{"s":1063,"v":0.375},{"s":1074,"v":0.391},{"s":1086,"v":0.406},{"s":1097,"v":0.422},{"s":1060,"v":0.438},{"s":1072,"v":0.453},{"s":1084,"v":0.469},{"s":1066,"v":0.313},{"s":1090,"v":0.25},{"s":1078,"v":0.344},
{"s":1106,"v":0.156},{"s":1118,"v":0.188},{"s":1130,"v":0.203},{"s":1142,"v":0.219},{"s":1103,"v":0.234},{"s":1114,"v":0.25},{"s":1126,"v":0.266},{"s":1138,"v":0.281},{"s":1149,"v":0.297},{"s":1108,"v":0.313},{"s":1120,"v":0.328},{"s":1132,"v":0.328},{"s":1144,"v":0.344},{"s":1101,"v":0.359},{"s":1112,"v":0.375},{"s":1124,"v":0.391},{"s":1136,"v":0.391},{"s":1147,"v":0.406},{"s":1110,"v":0.422},{"s":1122,"v":0.438},{"s":1134,"v":0.453},{"s":1146,"v":0.469},{"s":1116,"v":0.297},{"s":1140,"v":0.266},{"s":1128,"v":0.156},
{"s":1156,"v":0.141},{"s":1168,"v":0.172},{"s":1180,"v":0.203},{"s":1192,"v":0.219},{"s":1153,"v":0.234},{"s":1164,"v":0.25},{"s":1176,"v":0.266},{"s":1188,"v":0.281},{"s":1199,"v":0.297},{"s":1158,"v":0.313},{"s":1170,"v":0.313},{"s":1182,"v":0.328},{"s":1194,"v":0.344},{"s":1151,"v":0.359},{"s":1162,"v":0.375},{"s":1174,"v":0.391},{"s":1186,"v":0.406},{"s":1197,"v":0.422},{"s":1160,"v":0.438},{"s":1172,"v":0.453},{"s":1184,"v":0.469},{"s":1166,"v":0.297},{"s":1190,"v":0.25},{"s":1178,"v":0.344},{"s":1196,"v":0.188},
{"s":1218,"v":0.125},{"s":1240,"v":0.063},{"s":1206,"v":0.156},{"s":1228,"v":0.188},{"s":1203,"v":0.203},{"s":1214,"v":0.219},{"s":1226,"v":0.25},{"s":1238,"v":0.266},{"s":1249,"v":0.281},{"s":1208,"v":0.297},{"s":1220,"v":0.313},{"s":1232,"v":0.328},{"s":1244,"v":0.344},{"s":1201,"v":0.344},{"s":1212,"v":0.359},{"s":1224,"v":0.375},{"s":1236,"v":0.391},{"s":1247,"v":0.406},{"s":1210,"v":0.422},{"s":1222,"v":0.438},{"s":1234,"v":0.453},{"s":1246,"v":0.469},{"s":1216,"v":0.313},{"s":1242,"v":0.25},{"s":1230,"v":0.203},
{"s":1296,"v":0.063},{"s":1256,"v":0.141},{"s":1268,"v":0.172},{"s":1280,"v":0.188},{"s":1292,"v":0.203},{"s":1253,"v":0.234},{"s":1264,"v":0.25},{"s":1276,"v":0.266},{"s":1288,"v":0.281},{"s":1299,"v":0.297},{"s":1258,"v":0.313},{"s":1270,"v":0.328},{"s":1282,"v":0.328},{"s":1294,"v":0.344},{"s":1251,"v":0.359},{"s":1262,"v":0.375},{"s":1274,"v":0.391},{"s":1286,"v":0.406},{"s":1297,"v":0.422},{"s":1260,"v":0.438},{"s":1272,"v":0.453},{"s":1284,"v":0.469},{"s":1266,"v":0.297},{"s":1290,"v":0.25},{"s":1303,"v":0.117},
{"s":1306,"v":0.156},{"s":1318,"v":0.172},{"s":1330,"v":0.203},{"s":1342,"v":0.219},{"s":1304,"v":0.234},{"s":1314,"v":0.25},{"s":1326,"v":0.266},{"s":1338,"v":0.281},{"s":1349,"v":0.281},{"s":1308,"v":0.297},{"s":1320,"v":0.313},{"s":1332,"v":0.328},{"s":1344,"v":0.344},{"s":1301,"v":0.359},{"s":1312,"v":0.375},{"s":1324,"v":0.375},{"s":1336,"v":0.391},{"s":1347,"v":0.406},{"s":1310,"v":0.422},{"s":1322,"v":0.438},{"s":1334,"v":0.453},{"s":1346,"v":0.469},{"s":1316,"v":0.313},{"s":1340,"v":0.188},{"s":1328,"v":0.141},
{"s":1394,"v":0.125},{"s":1356,"v":0.156},{"s":1368,"v":0.188},{"s":1380,"v":0.203},{"s":1392,"v":0.219},{"s":1353,"v":0.234},{"s":1364,"v":0.25},{"s":1376,"v":0.266},{"s":1388,"v":0.281},{"s":1399,"v":0.297},{"s":1358,"v":0.297},{"s":1370,"v":0.313},{"s":1382,"v":0.328},{"s":1395,"v":0.344},{"s":1351,"v":0.359},{"s":1362,"v":0.375},{"s":1374,"v":0.391},{"s":1386,"v":0.406},{"s":1397,"v":0.422},{"s":1360,"v":0.438},{"s":1372,"v":0.453},{"s":1384,"v":0.469},{"s":1366,"v":0.313},{"s":1390,"v":0.266},{"s":1378,"v":0.172},
{"s":1406,"v":0.172},{"s":1418,"v":0.188},{"s":1430,"v":0.203},{"s":1442,"v":0.219},{"s":1403,"v":0.234},{"s":1414,"v":0.25},{"s":1426,"v":0.266},{"s":1438,"v":0.281},{"s":1449,"v":0.297},{"s":1408,"v":0.313},{"s":1420,"v":0.313},{"s":1432,"v":0.328},{"s":1444,"v":0.344},{"s":1401,"v":0.359},{"s":1412,"v":0.375},{"s":1424,"v":0.391},{"s":1436,"v":0.391},{"s":1447,"v":0.406},{"s":1410,"v":0.422},{"s":1422,"v":0.438},{"s":1434,"v":0.453},{"s":1446,"v":0.469},{"s":1416,"v":0.297},{"s":1440,"v":0.25},{"s":1428,"v":0.141},
{"s":1491,"v":0.102},{"s":1456,"v":0.156},{"s":1468,"v":0.188},{"s":1480,"v":0.203},{"s":1492,"v":0.219},{"s":1453,"v":0.234},{"s":1464,"v":0.25},{"s":1476,"v":0.266},{"s":1488,"v":0.281},{"s":1499,"v":0.297},{"s":1458,"v":0.313},{"s":1470,"v":0.313},{"s":1482,"v":0.328},{"s":1494,"v":0.344},{"s":1451,"v":0.359},{"s":1462,"v":0.375},{"s":1474,"v":0.391},{"s":1486,"v":0.406},{"s":1497,"v":0.422},{"s":1460,"v":0.438},{"s":1472,"v":0.453},{"s":1484,"v":0.469},{"s":1466,"v":0.297},{"s":1490,"v":0.25},{"s":1478,"v":0.172},
{"s":1506,"v":0.172},{"s":1518,"v":0.188},{"s":1530,"v":0.203},{"s":1542,"v":0.219},{"s":1503,"v":0.234},{"s":1514,"v":0.25},{"s":1526,"v":0.266},{"s":1538,"v":0.281},{"s":1549,"v":0.297},{"s":1508,"v":0.313},{"s":1520,"v":0.328},{"s":1532,"v":0.328},{"s":1544,"v":0.344},{"s":1501,"v":0.359},{"s":1512,"v":0.375},{"s":1524,"v":0.391},{"s":1536,"v":0.406},{"s":1547,"v":0.422},{"s":1510,"v":0.438},{"s":1522,"v":0.453},{"s":1534,"v":0.469},{"s":1516,"v":0.297},{"s":1540,"v":0.25},{"s":1528,"v":0.156},
{"s":1556,"v":0.188},{"s":1568,"v":0.203},{"s":1580,"v":0.219},{"s":1553,"v":0.234},{"s":1564,"v":0.25},{"s":1576,"v":0.266},{"s":1588,"v":0.281},{"s":1558,"v":0.297},{"s":1570,"v":0.313},{"s":1582,"v":0.328},{"s":1551,"v":0.344},{"s":1562,"v":0.359},{"s":1574,"v":0.375},{"s":1586,"v":0.391},{"s":1560,"v":0.406},{"s":1572,"v":0.422},{"s":1584,"v":0.438},{"s":1566,"v":0.453},{"s":1578,"v":0.469},{"s":1590,"v":0.313},{"s":1555,"v":0.266},{"s":1585,"v":0.25}
],
"fit":[
{"s":0,"v":0.0,"g":"SFT (guide) + hard","p":"solid"},{"s":75,"v":0.035,"g":"SFT (guide) + hard","p":"solid"},{"s":140,"v":0.064,"g":"SFT (guide) + hard","p":"solid"},{"s":205,"v":0.09,"g":"SFT (guide) + hard","p":"solid"},{"s":270,"v":0.1165,"g":"SFT (guide) + hard","p":"solid"},{"s":335,"v":0.1405,"g":"SFT (guide) + hard","p":"solid"},{"s":400,"v":0.162,"g":"SFT (guide) + hard","p":"solid"},{"s":465,"v":0.181,"g":"SFT (guide) + hard","p":"solid"},{"s":530,"v":0.199,"g":"SFT (guide) + hard","p":"solid"},{"s":595,"v":0.215,"g":"SFT (guide) + hard","p":"solid"},{"s":660,"v":0.229,"g":"SFT (guide) + hard","p":"solid"},{"s":725,"v":0.241,"g":"SFT (guide) + hard","p":"solid"},{"s":790,"v":0.253,"g":"SFT (guide) + hard","p":"solid"},{"s":855,"v":0.263,"g":"SFT (guide) + hard","p":"solid"},{"s":920,"v":0.272,"g":"SFT (guide) + hard","p":"solid"},{"s":984,"v":0.28,"g":"SFT (guide) + hard","p":"solid"},{"s":1114,"v":0.294,"g":"SFT (guide) + hard","p":"solid"},{"s":1244,"v":0.306,"g":"SFT (guide) + hard","p":"solid"},{"s":1374,"v":0.316,"g":"SFT (guide) + hard","p":"solid"},{"s":1504,"v":0.325,"g":"SFT (guide) + hard","p":"solid"},{"s":1620,"v":0.334,"g":"SFT (guide) + hard","p":"solid"},
{"s":1620,"v":0.334,"g":"SFT (guide) + hard","p":"dashed"},{"s":1800,"v":0.346,"g":"SFT (guide) + hard","p":"dashed"},{"s":2000,"v":0.358,"g":"SFT (guide) + hard","p":"dashed"},{"s":2250,"v":0.367,"g":"SFT (guide) + hard","p":"dashed"},{"s":2500,"v":0.373,"g":"SFT (guide) + hard","p":"dashed"},{"s":2750,"v":0.377,"g":"SFT (guide) + hard","p":"dashed"},{"s":3000,"v":0.38,"g":"SFT (guide) + hard","p":"dashed"},
{"s":0,"v":0.092,"g":"hard + guide","p":"solid"},{"s":50,"v":0.141,"g":"hard + guide","p":"solid"},{"s":100,"v":0.183,"g":"hard + guide","p":"solid"},{"s":150,"v":0.22,"g":"hard + guide","p":"solid"},{"s":205,"v":0.253,"g":"hard + guide","p":"solid"},{"s":270,"v":0.287,"g":"hard + guide","p":"solid"},{"s":335,"v":0.316,"g":"hard + guide","p":"solid"},{"s":400,"v":0.34,"g":"hard + guide","p":"solid"},{"s":465,"v":0.361,"g":"hard + guide","p":"solid"},{"s":530,"v":0.38,"g":"hard + guide","p":"solid"},{"s":595,"v":0.399,"g":"hard + guide","p":"solid"},{"s":660,"v":0.415,"g":"hard + guide","p":"solid"},{"s":725,"v":0.428,"g":"hard + guide","p":"solid"},{"s":790,"v":0.44,"g":"hard + guide","p":"solid"},{"s":855,"v":0.449,"g":"hard + guide","p":"solid"},{"s":910,"v":0.455,"g":"hard + guide","p":"solid"},
{"s":910,"v":0.455,"g":"hard + guide","p":"dashed"},{"s":984,"v":0.46,"g":"hard + guide","p":"dashed"},{"s":1114,"v":0.473,"g":"hard + guide","p":"dashed"},{"s":1244,"v":0.482,"g":"hard + guide","p":"dashed"},{"s":1374,"v":0.49,"g":"hard + guide","p":"dashed"},{"s":1634,"v":0.5,"g":"hard + guide","p":"dashed"},{"s":2000,"v":0.507,"g":"hard + guide","p":"dashed"},{"s":2500,"v":0.513,"g":"hard + guide","p":"dashed"},{"s":3000,"v":0.516,"g":"hard + guide","p":"dashed"}
],
"ent":[
{"s":40.7,"v":0.2279,"g":"SFT (guide) + hard"},{"s":45,"v":0.2308,"g":"SFT (guide) + hard"},{"s":50,"v":0.2327,"g":"SFT (guide) + hard"},{"s":54.4,"v":0.236,"g":"SFT (guide) + hard"},{"s":60.6,"v":0.237,"g":"SFT (guide) + hard"},{"s":66.7,"v":0.2376,"g":"SFT (guide) + hard"},{"s":71,"v":0.24,"g":"SFT (guide) + hard"},{"s":79,"v":0.2414,"g":"SFT (guide) + hard"},{"s":85,"v":0.2405,"g":"SFT (guide) + hard"},{"s":91,"v":0.2419,"g":"SFT (guide) + hard"},{"s":94,"v":0.244,"g":"SFT (guide) + hard"},{"s":98.8,"v":0.2494,"g":"SFT (guide) + hard"},{"s":105,"v":0.25,"g":"SFT (guide) + hard"},{"s":111,"v":0.2537,"g":"SFT (guide) + hard"},{"s":115.6,"v":0.2559,"g":"SFT (guide) + hard"},{"s":121.7,"v":0.2581,"g":"SFT (guide) + hard"},{"s":126,"v":0.2613,"g":"SFT (guide) + hard"},{"s":132.4,"v":0.264,"g":"SFT (guide) + hard"},{"s":137,"v":0.2618,"g":"SFT (guide) + hard"},{"s":141.6,"v":0.2613,"g":"SFT (guide) + hard"},{"s":146,"v":0.2624,"g":"SFT (guide) + hard"},{"s":149,"v":0.2613,"g":"SFT (guide) + hard"},{"s":153.8,"v":0.2597,"g":"SFT (guide) + hard"},{"s":157,"v":0.2618,"g":"SFT (guide) + hard"},{"s":163,"v":0.2624,"g":"SFT (guide) + hard"},{"s":167.6,"v":0.2632,"g":"SFT (guide) + hard"},{"s":173.7,"v":0.2637,"g":"SFT (guide) + hard"},{"s":178,"v":0.2651,"g":"SFT (guide) + hard"},{"s":182.9,"v":0.2645,"g":"SFT (guide) + hard"},{"s":186,"v":0.2632,"g":"SFT (guide) + hard"},{"s":190.5,"v":0.2645,"g":"SFT (guide) + hard"},{"s":193.6,"v":0.2661,"g":"SFT (guide) + hard"},{"s":196.6,"v":0.2651,"g":"SFT (guide) + hard"},{"s":199.7,"v":0.2608,"g":"SFT (guide) + hard"},{"s":204,"v":0.2591,"g":"SFT (guide) + hard"},{"s":208.8,"v":0.2575,"g":"SFT (guide) + hard"},{"s":212,"v":0.2537,"g":"SFT (guide) + hard"},{"s":216.5,"v":0.2511,"g":"SFT (guide) + hard"},{"s":219.6,"v":0.2497,"g":"SFT (guide) + hard"},{"s":224,"v":0.2494,"g":"SFT (guide) + hard"},{"s":227,"v":0.2467,"g":"SFT (guide) + hard"},{"s":231.8,"v":0.2419,"g":"SFT (guide) + hard"},{"s":238,"v":0.2403,"g":"SFT (guide) + hard"},{"s":244,"v":0.2392,"g":"SFT (guide) + hard"},{"s":250,"v":0.2387,"g":"SFT (guide) + hard"},{"s":256,"v":0.2379,"g":"SFT (guide) + hard"},{"s":262,"v":0.2365,"g":"SFT (guide) + hard"},{"s":265,"v":0.2362,"g":"SFT (guide) + hard"},{"s":268.5,"v":0.2403,"g":"SFT (guide) + hard"},{"s":274.6,"v":0.2411,"g":"SFT (guide) + hard"},{"s":278,"v":0.24,"g":"SFT (guide) + hard"},{"s":284,"v":0.2397,"g":"SFT (guide) + hard"},{"s":290,"v":0.2368,"g":"SFT (guide) + hard"},{"s":296,"v":0.236,"g":"SFT (guide) + hard"},{"s":301,"v":0.24,"g":"SFT (guide) + hard"},{"s":305.5,"v":0.2373,"g":"SFT (guide) + hard"},{"s":311.7,"v":0.2351,"g":"SFT (guide) + hard"},{"s":318,"v":0.237,"g":"SFT (guide) + hard"},{"s":322,"v":0.2397,"g":"SFT (guide) + hard"},{"s":327,"v":0.2386,"g":"SFT (guide) + hard"},{"s":333,"v":0.2432,"g":"SFT (guide) + hard"},{"s":339,"v":0.243,"g":"SFT (guide) + hard"},{"s":345,"v":0.2419,"g":"SFT (guide) + hard"},{"s":350,"v":0.2454,"g":"SFT (guide) + hard"},{"s":356,"v":0.2451,"g":"SFT (guide) + hard"},{"s":364,"v":0.2449,"g":"SFT (guide) + hard"},{"s":370,"v":0.2446,"g":"SFT (guide) + hard"},{"s":374.5,"v":0.243,"g":"SFT (guide) + hard"},{"s":380.7,"v":0.2435,"g":"SFT (guide) + hard"},{"s":386.8,"v":0.2457,"g":"SFT (guide) + hard"},{"s":390,"v":0.2424,"g":"SFT (guide) + hard"},{"s":393,"v":0.2408,"g":"SFT (guide) + hard"},{"s":400.6,"v":0.2403,"g":"SFT (guide) + hard"},{"s":403.7,"v":0.2365,"g":"SFT (guide) + hard"},{"s":410,"v":0.2354,"g":"SFT (guide) + hard"},{"s":416,"v":0.2333,"g":"SFT (guide) + hard"},{"s":420.5,"v":0.2316,"g":"SFT (guide) + hard"},{"s":425,"v":0.23,"g":"SFT (guide) + hard"},{"s":428,"v":0.2265,"g":"SFT (guide) + hard"},{"s":434,"v":0.2279,"g":"SFT (guide) + hard"},{"s":440.5,"v":0.2263,"g":"SFT (guide) + hard"},{"s":445,"v":0.2271,"g":"SFT (guide) + hard"},{"s":451,"v":0.2252,"g":"SFT (guide) + hard"},{"s":454,"v":0.2225,"g":"SFT (guide) + hard"},{"s":463.5,"v":0.222,"g":"SFT (guide) + hard"},{"s":469.5,"v":0.2203,"g":"SFT (guide) + hard"},{"s":474,"v":0.2176,"g":"SFT (guide) + hard"},{"s":479,"v":0.2139,"g":"SFT (guide) + hard"},{"s":485,"v":0.2131,"g":"SFT (guide) + hard"},{"s":495.7,"v":0.2128,"g":"SFT (guide) + hard"},{"s":500,"v":0.2106,"g":"SFT (guide) + hard"},{"s":505,"v":0.2085,"g":"SFT (guide) + hard"},{"s":511,"v":0.2087,"g":"SFT (guide) + hard"},{"s":518.7,"v":0.2077,"g":"SFT (guide) + hard"},{"s":525,"v":0.209,"g":"SFT (guide) + hard"},{"s":531,"v":0.2066,"g":"SFT (guide) + hard"},{"s":539.6,"v":0.206,"g":"SFT (guide) + hard"},{"s":545.6,"v":0.2069,"g":"SFT (guide) + hard"},{"s":548.5,"v":0.2063,"g":"SFT (guide) + hard"},{"s":551.5,"v":0.2039,"g":"SFT (guide) + hard"},{"s":557.7,"v":0.2039,"g":"SFT (guide) + hard"},{"s":564,"v":0.2042,"g":"SFT (guide) + hard"},{"s":570,"v":0.2034,"g":"SFT (guide) + hard"},{"s":576,"v":0.2031,"g":"SFT (guide) + hard"},{"s":582,"v":0.2044,"g":"SFT (guide) + hard"},{"s":588,"v":0.2039,"g":"SFT (guide) + hard"},{"s":593,"v":0.2044,"g":"SFT (guide) + hard"},{"s":597,"v":0.2028,"g":"SFT (guide) + hard"},{"s":600.6,"v":0.2044,"g":"SFT (guide) + hard"},{"s":606.7,"v":0.2034,"g":"SFT (guide) + hard"},{"s":613,"v":0.2039,"g":"SFT (guide) + hard"},{"s":619,"v":0.2044,"g":"SFT (guide) + hard"},{"s":623.6,"v":0.2023,"g":"SFT (guide) + hard"},{"s":631,"v":0.2025,"g":"SFT (guide) + hard"},{"s":637.4,"v":0.2039,"g":"SFT (guide) + hard"},{"s":642,"v":0.2028,"g":"SFT (guide) + hard"},{"s":646.6,"v":0.2031,"g":"SFT (guide) + hard"},{"s":651,"v":0.2017,"g":"SFT (guide) + hard"},{"s":656,"v":0.2009,"g":"SFT (guide) + hard"},{"s":662,"v":0.2012,"g":"SFT (guide) + hard"},{"s":668,"v":0.2004,"g":"SFT (guide) + hard"},{"s":677,"v":0.2006,"g":"SFT (guide) + hard"},{"s":683,"v":0.2001,"g":"SFT (guide) + hard"},{"s":688,"v":0.2014,"g":"SFT (guide) + hard"},{"s":692.6,"v":0.2023,"g":"SFT (guide) + hard"},{"s":698.8,"v":0.2028,"g":"SFT (guide) + hard"},{"s":706.4,"v":0.2034,"g":"SFT (guide) + hard"},{"s":714,"v":0.2039,"g":"SFT (guide) + hard"},{"s":718.7,"v":0.2028,"g":"SFT (guide) + hard"},{"s":723,"v":0.2036,"g":"SFT (guide) + hard"},{"s":728,"v":0.2023,"g":"SFT (guide) + hard"},{"s":732.5,"v":0.2006,"g":"SFT (guide) + hard"},{"s":738.7,"v":0.2012,"g":"SFT (guide) + hard"},{"s":744.8,"v":0.2009,"g":"SFT (guide) + hard"},{"s":749,"v":0.2014,"g":"SFT (guide) + hard"},{"s":752.5,"v":0.2016,"g":"SFT (guide) + hard"},
{"s":40.7,"v":0.2379,"g":"hard + guide"},{"s":43.7,"v":0.2387,"g":"hard + guide"},{"s":48.3,"v":0.2384,"g":"hard + guide"},{"s":54.4,"v":0.2384,"g":"hard + guide"},{"s":57.5,"v":0.2354,"g":"hard + guide"},{"s":62,"v":0.2373,"g":"hard + guide"},{"s":65,"v":0.2349,"g":"hard + guide"},{"s":69.7,"v":0.2333,"g":"hard + guide"},{"s":73.4,"v":0.2308,"g":"hard + guide"},{"s":79,"v":0.2319,"g":"hard + guide"},{"s":85,"v":0.2298,"g":"hard + guide"},{"s":91,"v":0.2303,"g":"hard + guide"},{"s":95.7,"v":0.2317,"g":"hard + guide"},{"s":102,"v":0.23,"g":"hard + guide"},{"s":106.4,"v":0.2308,"g":"hard + guide"},{"s":111,"v":0.2333,"g":"hard + guide"},{"s":115.6,"v":0.2343,"g":"hard + guide"},{"s":120,"v":0.2335,"g":"hard + guide"},{"s":123,"v":0.2351,"g":"hard + guide"},{"s":127.8,"v":0.2335,"g":"hard + guide"},{"s":132.4,"v":0.2346,"g":"hard + guide"},{"s":137,"v":0.2346,"g":"hard + guide"},{"s":141.6,"v":0.2379,"g":"hard + guide"},{"s":146,"v":0.2365,"g":"hard + guide"},{"s":152,"v":0.2357,"g":"hard + guide"},{"s":155,"v":0.2343,"g":"hard + guide"},{"s":160,"v":0.2357,"g":"hard + guide"},{"s":163,"v":0.233,"g":"hard + guide"},{"s":170.6,"v":0.233,"g":"hard + guide"},{"s":175,"v":0.2327,"g":"hard + guide"},{"s":180,"v":0.2341,"g":"hard + guide"},{"s":183,"v":0.2319,"g":"hard + guide"},{"s":187.5,"v":0.2335,"g":"hard + guide"},{"s":192,"v":0.2322,"g":"hard + guide"},{"s":195,"v":0.23,"g":"hard + guide"},{"s":201,"v":0.229,"g":"hard + guide"},{"s":206,"v":0.2303,"g":"hard + guide"},{"s":213,"v":0.23,"g":"hard + guide"},{"s":219.6,"v":0.2279,"g":"hard + guide"},{"s":225.7,"v":0.2295,"g":"hard + guide"},{"s":230,"v":0.2306,"g":"hard + guide"},{"s":233.3,"v":0.2333,"g":"hard + guide"},{"s":239.4,"v":0.2354,"g":"hard + guide"},{"s":244,"v":0.2376,"g":"hard + guide"},{"s":250,"v":0.2368,"g":"hard + guide"},{"s":256,"v":0.2373,"g":"hard + guide"},{"s":262,"v":0.2381,"g":"hard + guide"},{"s":271.6,"v":0.2381,"g":"hard + guide"},{"s":278,"v":0.2376,"g":"hard + guide"},{"s":284,"v":0.237,"g":"hard + guide"},{"s":288.7,"v":0.2384,"g":"hard + guide"},{"s":292,"v":0.2422,"g":"hard + guide"},{"s":298,"v":0.243,"g":"hard + guide"},{"s":302.6,"v":0.2422,"g":"hard + guide"},{"s":308.7,"v":0.2424,"g":"hard + guide"},{"s":313,"v":0.2416,"g":"hard + guide"},{"s":317.8,"v":0.2414,"g":"hard + guide"},{"s":322,"v":0.2405,"g":"hard + guide"},{"s":328.5,"v":0.2408,"g":"hard + guide"},{"s":333,"v":0.2422,"g":"hard + guide"},{"s":336,"v":0.2397,"g":"hard + guide"},{"s":341,"v":0.2422,"g":"hard + guide"},{"s":345,"v":0.2438,"g":"hard + guide"},{"s":351,"v":0.2449,"g":"hard + guide"},{"s":356,"v":0.2438,"g":"hard + guide"},{"s":360.7,"v":0.2459,"g":"hard + guide"},{"s":365,"v":0.243,"g":"hard + guide"},{"s":370,"v":0.2397,"g":"hard + guide"},{"s":377.6,"v":0.2392,"g":"hard + guide"},{"s":382,"v":0.2368,"g":"hard + guide"},{"s":388,"v":0.2354,"g":"hard + guide"},{"s":394.5,"v":0.2349,"g":"hard + guide"},{"s":399,"v":0.2325,"g":"hard + guide"},{"s":405,"v":0.2317,"g":"hard + guide"},{"s":410,"v":0.2343,"g":"hard + guide"},{"s":414.4,"v":0.2354,"g":"hard + guide"},{"s":420.5,"v":0.2351,"g":"hard + guide"},{"s":423.6,"v":0.2362,"g":"hard + guide"},{"s":430,"v":0.237,"g":"hard + guide"},{"s":434,"v":0.236,"g":"hard + guide"},{"s":440.5,"v":0.237,"g":"hard + guide"},{"s":445,"v":0.2349,"g":"hard + guide"},{"s":449.7,"v":0.2333,"g":"hard + guide"},{"s":454.3,"v":0.2306,"g":"hard + guide"},{"s":460,"v":0.2292,"g":"hard + guide"},{"s":463.5,"v":0.2271,"g":"hard + guide"},{"s":468,"v":0.2265,"g":"hard + guide"},{"s":472.7,"v":0.2255,"g":"hard + guide"},{"s":479,"v":0.2265,"g":"hard + guide"},{"s":483,"v":0.2263,"g":"hard + guide"},{"s":486.5,"v":0.2279,"g":"hard + guide"},{"s":491,"v":0.2265,"g":"hard + guide"},{"s":497,"v":0.2257,"g":"hard + guide"},{"s":502,"v":0.2265,"g":"hard + guide"},{"s":506,"v":0.2287,"g":"hard + guide"},{"s":511,"v":0.2298,"g":"hard + guide"},{"s":515.6,"v":0.2306,"g":"hard + guide"},{"s":518.7,"v":0.2295,"g":"hard + guide"},{"s":523,"v":0.2314,"g":"hard + guide"},{"s":528,"v":0.2333,"g":"hard + guide"},{"s":532,"v":0.2343,"g":"hard + guide"},{"s":535.6,"v":0.2376,"g":"hard + guide"},{"s":540,"v":0.2397,"g":"hard + guide"},{"s":544,"v":0.2416,"g":"hard + guide"},{"s":548.5,"v":0.2411,"g":"hard + guide"},{"s":554.6,"v":0.2403,"g":"hard + guide"},{"s":559,"v":0.2411,"g":"hard + guide"},{"s":565,"v":0.2405,"g":"hard + guide"},{"s":570,"v":0.2387,"g":"hard + guide"},{"s":576,"v":0.2381,"g":"hard + guide"},{"s":580.7,"v":0.2368,"g":"hard + guide"},{"s":585,"v":0.2343,"g":"hard + guide"},{"s":590,"v":0.2341,"g":"hard + guide"},{"s":593,"v":0.2346,"g":"hard + guide"},{"s":597.5,"v":0.233,"g":"hard + guide"},{"s":602,"v":0.2308,"g":"hard + guide"},{"s":606.7,"v":0.229,"g":"hard + guide"},{"s":611,"v":0.2295,"g":"hard + guide"},{"s":616,"v":0.2271,"g":"hard + guide"},{"s":622,"v":0.2244,"g":"hard + guide"},{"s":628,"v":0.2246,"g":"hard + guide"},{"s":636,"v":0.2233,"g":"hard + guide"},{"s":642,"v":0.2238,"g":"hard + guide"},{"s":648,"v":0.2236,"g":"hard + guide"},{"s":652.8,"v":0.223,"g":"hard + guide"},{"s":657,"v":0.2238,"g":"hard + guide"},{"s":662,"v":0.2273,"g":"hard + guide"},{"s":666.5,"v":0.2279,"g":"hard + guide"},{"s":671,"v":0.2292,"g":"hard + guide"},{"s":675.8,"v":0.2295,"g":"hard + guide"},{"s":680,"v":0.2314,"g":"hard + guide"},{"s":685,"v":0.2319,"g":"hard + guide"},{"s":689.6,"v":0.2335,"g":"hard + guide"},{"s":695.7,"v":0.2333,"g":"hard + guide"},{"s":702,"v":0.2333,"g":"hard + guide"},{"s":706,"v":0.2322,"g":"hard + guide"},{"s":711,"v":0.2322,"g":"hard + guide"},{"s":713.5,"v":0.2306,"g":"hard + guide"},{"s":718.7,"v":0.2314,"g":"hard + guide"},{"s":723,"v":0.2306,"g":"hard + guide"},{"s":729,"v":0.2317,"g":"hard + guide"},{"s":735.6,"v":0.2322,"g":"hard + guide"},{"s":740,"v":0.2314,"g":"hard + guide"},{"s":741.7,"v":0.229,"g":"hard + guide"},{"s":746,"v":0.2273,"g":"hard + guide"},{"s":751,"v":0.2271,"g":"hard + guide"}
]
},
"bounds":"flush",
"spacing":326,
"resolve":{"scale":{"color":"shared"},"legend":{"color":"shared"}},
"hconcat":[
{
"width":849,"height":627,
"title":{"text":"Solvable Problems vs. Steps","dx":-13},
"encoding":{
"x":{"field":"s","type":"quantitative","scale":{"domain":[-148,3159],"nice":false,"zero":false},"axis":{"title":"Steps","values":[0,1000,2000,3000],"format":"d","offset":28,"labelPadding":3,"titlePadding":12}},
"y":{"field":"v","type":"quantitative","scale":{"domain":[0,0.9],"nice":false,"zero":false},"axis":{"title":"Ratio of Solvable Problems","values":[0,0.2,0.4,0.6,0.8],"format":".1f","offset":30,"labelPadding":10,"titlePadding":12}}
},
"layer":[
{"data":{"name":"ptsO"},"mark":{"type":"circle","size":30,"opacity":0.8},"encoding":{"color":{"datum":"hard + guide","type":"nominal","scale":{"domain":["SFT (guide) + hard","hard + guide"],"range":["#99DDFF","#EE8866"]},"legend":{"title":null}}}},
{"data":{"name":"ptsB"},"mark":{"type":"circle","size":30,"opacity":0.8},"encoding":{"color":{"datum":"SFT (guide) + hard","type":"nominal","scale":{"domain":["SFT (guide) + hard","hard + guide"],"range":["#99DDFF","#EE8866"]},"legend":{"title":null}}}},
{"data":{"name":"fit"},"mark":{"type":"line","strokeWidth":8,"strokeCap":"butt","strokeJoin":"round"},"encoding":{
"color":{"field":"g","type":"nominal","scale":{"domain":["SFT (guide) + hard","hard + guide"],"range":["#99DDFF","#EE8866"]},"legend":{"title":null}},
"strokeDash":{"field":"p","type":"nominal","scale":{"domain":["solid","dashed"],"range":[[1,0],[32,11]]},"legend":null}}}
]
},
{
"width":851,"height":627,
"title":{"text":"Entropy vs. Steps","dx":-13},
"data":{"name":"ent"},
"mark":{"type":"line","strokeWidth":10,"strokeJoin":"round","strokeCap":"round"},
"encoding":{
"x":{"field":"s","type":"quantitative","scale":{"domain":[5.5,786],"nice":false,"zero":false},"axis":{"title":"Steps","values":[200,400,600],"format":"d","offset":28,"labelPadding":3,"titlePadding":12}},
"y":{"field":"v","type":"quantitative","scale":{"domain":[0.2,0.2803],"nice":false,"zero":false},"axis":{"title":"Entropy","values":[0.2,0.22,0.24,0.26,0.28],"format":".2f","offset":27,"labelPadding":10,"titlePadding":12}},
"color":{"field":"g","type":"nominal","scale":{"domain":["SFT (guide) + hard","hard + guide"],"range":["#99DDFF","#EE8866"]},"legend":{"title":null}}
}
}
]
}
